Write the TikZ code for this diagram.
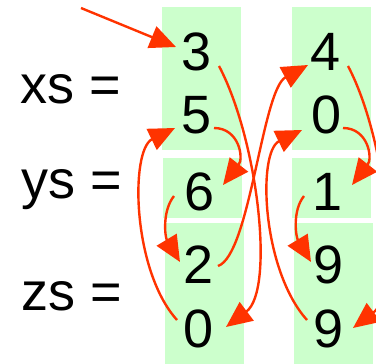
\documentclass[tikz,border=0pt]{standalone}
\usepackage{fontspec}
\setmainfont{Liberation Sans}
\usetikzlibrary{calc,arrows.meta}
\definecolor{cellgreen}{HTML}{CCFFCC}
\definecolor{linkred}{HTML}{FF3300}

\begin{document}
\begin{tikzpicture}[x=1pt, y=-1pt,
  digit/.style={font=\fontsize{54}{60}\selectfont, inner sep=0pt, text height=38.5pt, text depth=0pt},
  lbl/.style={font=\fontsize{54}{60}\selectfont, inner sep=0pt, anchor=base west},
  link/.style={linkred, line width=2.4pt, -{Triangle[length=26pt,width=23pt]}}]
\useasboundingbox (0,0) rectangle (376,364);
\clip (0,0) rectangle (376,364);
% cells of the first and second column
\fill[cellgreen] (162,7) rectangle (241,150);
\fill[cellgreen] (163,158) rectangle (242,218);
\fill[cellgreen] (165,223) rectangle (244,370);
\fill[cellgreen] (292,7) rectangle (371,150);
\fill[cellgreen] (292,158) rectangle (371,218);
\fill[cellgreen] (294,223) rectangle (373,370);
% names
\node[lbl] (lxs) at (20,103) {xs =};
\node[lbl] (lys) at (21,199) {ys =};
\node[lbl] (lzs) at (21,311) {zs =};
% values
\node[digit] (a1) at (197,51) {3};
\node[digit] (a2) at (197,114) {5};
\node[digit] (a3) at (200,191) {6};
\node[digit] (a4) at (199,264) {2};
\node[digit] (a5) at (199,328) {0};
\node[digit] (b1) at (326,51) {4};
\node[digit] (b2) at (327,114) {0};
\node[digit] (b3) at (328,191) {1};
\node[digit] (b4) at (329,264) {9};
\node[digit] (b5) at (329,328) {9};
\coordinate (entry) at (81,8);
% links
\draw[link] (entry) -- ($(a1)+(-21,-4)$);
\draw[link] ($(a1)+(22,15)$) .. controls +(39,74) and +(49,-37) .. ($(a5)+(27,-1)$);
\draw[link] ($(a2)+(17,14)$) .. controls +(25,0) and +(21,-27) .. ($(a3)+(23,-6)$);
\draw[link] ($(a3)+(-26,5)$) .. controls +(-12,15) and +(-15,-25) .. ($(a4)+(-19,-2)$);
\draw[link] ($(a4)+(19,2)$) .. controls +(32,-11) and +(-46,25) .. ($(b1)+(-18,14)$);
\draw[link] ($(a5)+(-22,-8)$) .. controls +(-45,-50) and +(-45,22) .. ($(a2)+(-22,14)$);
\draw[link] ($(b1)+(22,15)$) .. controls +(39,74) and +(49,-37) .. ($(b5)+(24,0)$);
\draw[link] ($(b2)+(16,14)$) .. controls +(25,0) and +(21,-27) .. ($(b3)+(24,-6)$);
\draw[link] ($(b3)+(-24,5)$) .. controls +(-12,15) and +(-15,-25) .. ($(b4)+(-18,-2)$);
\draw[link] ($(b5)+(-22,-8)$) .. controls +(-45,-50) and +(-45,22) .. ($(b2)+(-25,16)$);
\end{tikzpicture}
\end{document}
